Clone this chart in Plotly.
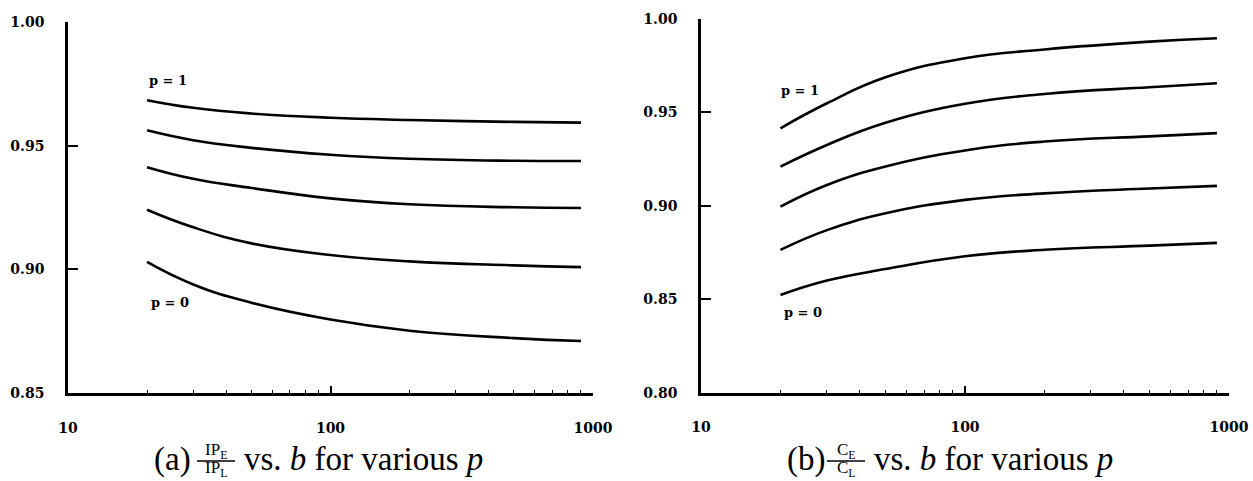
import plotly.graph_objects as go

W, H = 1253, 481

# ---- data ----
b_values = [20, 30, 50, 100, 200, 500, 900]

# (a) IP_E / IP_L vs b, curves from p = 1 (top) to p = 0 (bottom)
ip_p100 = [0.9684, 0.9653, 0.9630, 0.9613, 0.9604, 0.9596, 0.9593]
ip_p075 = [0.9562, 0.9522, 0.9491, 0.9463, 0.9447, 0.9439, 0.9438]
ip_p050 = [0.9413, 0.9366, 0.9329, 0.9287, 0.9263, 0.9251, 0.9248]
ip_p025 = [0.9241, 0.9170, 0.9105, 0.9058, 0.9032, 0.9016, 0.9009]
ip_p000 = [0.9030, 0.8939, 0.8865, 0.8797, 0.8752, 0.8722, 0.8710]

# (b) C_E / C_L vs b
c_p100 = [0.9415, 0.9549, 0.9688, 0.9790, 0.9837, 0.9879, 0.9897]
c_p075 = [0.9210, 0.9326, 0.9445, 0.9546, 0.9599, 0.9635, 0.9656]
c_p050 = [0.8996, 0.9112, 0.9210, 0.9296, 0.9344, 0.9372, 0.9389]
c_p025 = [0.8764, 0.8870, 0.8960, 0.9032, 0.9067, 0.9093, 0.9107]
c_p000 = [0.8523, 0.8600, 0.8662, 0.8730, 0.8765, 0.8787, 0.8802]

x_tickvals = [10, 100, 1000]
x_ticktext = ["10", "100", "1000"]
x_minor_vals = [20, 30, 40, 50, 60, 70, 80, 90, 200, 300, 400, 500, 600, 700, 800, 900]
ya_tickvals = [0.85, 0.90, 0.95, 1.00]
ya_ticktext = ["0.85", "0.90", "0.95", "1.00"]
yb_tickvals = [0.80, 0.85, 0.90, 0.95, 1.00]
yb_ticktext = ["0.80", "0.85", "0.90", "0.95", "1.00"]

# ---- figure ----
TICKFONT = dict(family="DejaVu Serif", size=14, color="black", weight="bold")
CAPFONT = "Liberation Serif"

fig = go.Figure()
for ys in [ip_p100, ip_p075, ip_p050, ip_p025, ip_p000]:
    fig.add_trace(go.Scatter(x=b_values, y=ys, mode="lines", xaxis="x", yaxis="y",
                             line=dict(color="black", width=2.6, shape="spline", smoothing=1.3),
                             showlegend=False, hoverinfo="skip"))
for ys in [c_p100, c_p075, c_p050, c_p025, c_p000]:
    fig.add_trace(go.Scatter(x=b_values, y=ys, mode="lines", xaxis="x2", yaxis="y2",
                             line=dict(color="black", width=2.6, shape="spline", smoothing=1.3),
                             showlegend=False, hoverinfo="skip"))

def px(x):
    return x / W

def py(y):
    return 1 - y / H

xcommon = dict(type="log", range=[1, 3], showline=True, linecolor="black", linewidth=2.5,
               showgrid=False, zeroline=False, ticks="inside", ticklen=7, tickwidth=1.5,
               tickcolor="black", tickvals=x_tickvals, ticktext=x_ticktext,
               tickfont=TICKFONT, ticklabelstandoff=20, automargin=False,
               minor=dict(ticks="inside", ticklen=3, tickwidth=1, tickcolor="black",
                          tickvals=x_minor_vals, showgrid=False))
ycommon = dict(showline=True, linecolor="black", linewidth=2.5, showgrid=False,
               zeroline=False, ticks="inside", ticklen=10, tickwidth=1.5, tickcolor="black",
               tickfont=TICKFONT, ticklabelstandoff=18, automargin=False)

fig.update_layout(
    width=W, height=H,
    margin=dict(l=0, r=0, t=0, b=0, autoexpand=False),
    paper_bgcolor="white", plot_bgcolor="white",
    xaxis=dict(domain=[px(68), px(593)], anchor="y", **xcommon),
    yaxis=dict(domain=[py(393), py(22)], anchor="x", range=[0.85, 1.00],
               tickvals=ya_tickvals, ticktext=ya_ticktext, **ycommon),
    xaxis2=dict(domain=[px(701), px(1229)], anchor="y2", **xcommon),
    yaxis2=dict(domain=[py(392.7), py(19)], anchor="x2", range=[0.80, 1.00],
                tickvals=yb_tickvals, ticktext=yb_ticktext, **ycommon),
)

LBL = dict(family="DejaVu Serif", size=13, color="black", weight="bold")
ann = [
    dict(x=1.301, y=0.9764, xref="x", yref="y", text="p = 1"),
    dict(x=1.31, y=0.8866, xref="x", yref="y", text="p = 0"),
    dict(x=1.295, y=0.962, xref="x2", yref="y2", text="p = 1"),
    dict(x=1.307, y=0.8427, xref="x2", yref="y2", text="p = 0"),
]
for a in ann:
    fig.add_annotation(**a, showarrow=False, xanchor="left", yanchor="middle", font=LBL)

# captions
CAP = dict(family=CAPFONT, size=33, color="black")
FR = dict(family=CAPFONT, size=17, color="black")
captions = [
    # (label, frac numerator, frac denominator, label-x, frac-center-x, rest-x)
    ("(a)", "IP<sub>E</sub>", "IP<sub>L</sub>", 152, 216, 242),
    ("(b)", "C<sub>E</sub>", "C<sub>L</sub>", 785, 846, 872),
]
for lab, num, den, lx, fx, rx in captions:
    fig.add_annotation(x=px(lx), y=py(459), xref="paper", yref="paper", text=lab,
                       showarrow=False, xanchor="left", yanchor="middle", font=CAP)
    fig.add_annotation(x=px(fx), y=py(451), xref="paper", yref="paper", text=num,
                       showarrow=False, xanchor="center", yanchor="middle", font=FR)
    fig.add_annotation(x=px(fx), y=py(469), xref="paper", yref="paper", text=den,
                       showarrow=False, xanchor="center", yanchor="middle", font=FR)
    fig.add_shape(type="line", xref="paper", yref="paper",
                  x0=px(fx - 19), x1=px(fx + 19), y0=py(461), y1=py(461),
                  line=dict(color="black", width=1.5))
    fig.add_annotation(x=px(rx), y=py(459), xref="paper", yref="paper",
                       text="vs. <i>b</i> for various <i>p</i>",
                       showarrow=False, xanchor="left", yanchor="middle", font=CAP)

fig.write_html("out.html")
